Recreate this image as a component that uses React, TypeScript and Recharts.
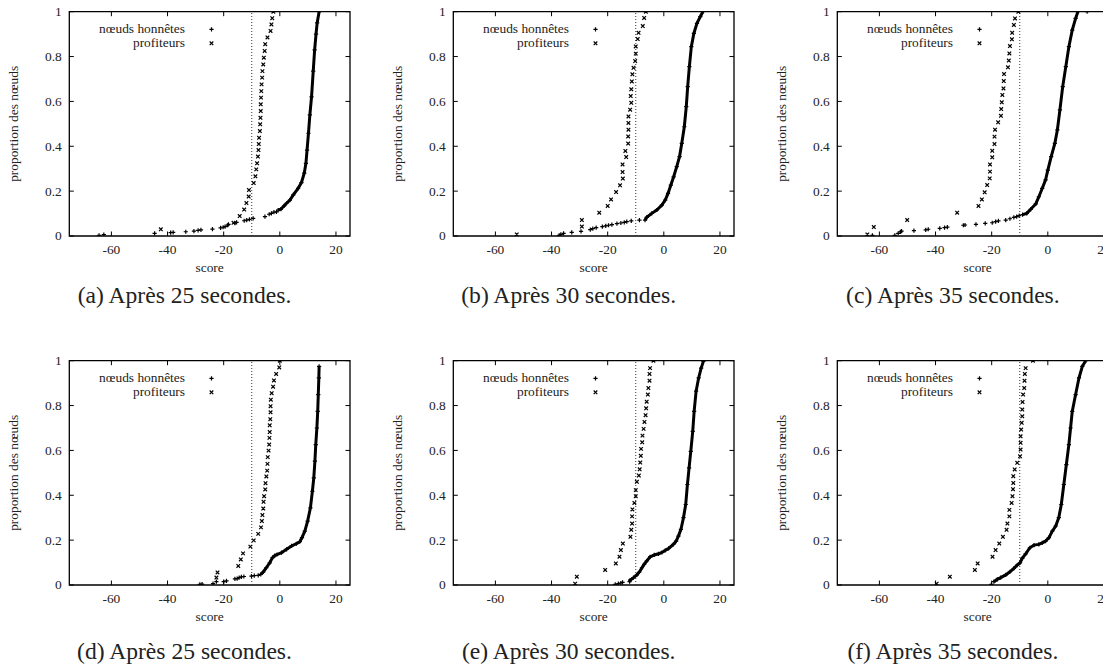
import React from 'react';
import { ScatterChart, Scatter, XAxis, YAxis, ReferenceLine, ReferenceArea, Legend, Label } from 'recharts';

type Pt = [number, number];

// ---------- labels ----------
const SERIES_LABELS = ['nœuds honnêtes', 'profiteurs'];
const X_TITLE = 'score';
const Y_TITLE = 'proportion des nœuds';
const X_TICKS = [-60, -40, -20, 0, 20];
const Y_TICKS = [0, 0.2, 0.4, 0.6, 0.8, 1];
const X_DOMAIN: [number, number] = [-75, 25];
const Y_DOMAIN: [number, number] = [0, 1];
const THRESHOLD = -10;
const CAPTIONS = [
  '(a) Après 25 secondes.',
  '(b) Après 30 secondes.',
  '(c) Après 35 secondes.',
  '(d) Après 25 secondes.',
  '(e) Après 30 secondes.',
  '(f) Après 35 secondes.',
];

// ---------- (a) ----------
const HONEST_TAIL_A: Pt[] = [[-64.4,0.003],[-62.7,0.006],[-44.6,0.012],[-38.9,0.015],[-38.0,0.016],[-33.5,0.019],[-30.6,0.022],[-29.1,0.025],[-28.1,0.027],[-24.0,0.031],[-21.1,0.036],[-20.2,0.039],[-19.5,0.042],[-18.6,0.048],[-18.3,0.052],[-16.0,0.057],[-15.4,0.061],[-12.7,0.068],[-11.8,0.071],[-10.8,0.074],[-9.5,0.079],[-5.3,0.086],[-3.8,0.097],[-3.0,0.101],[-2.1,0.106],[-1.2,0.108]];
const HONEST_CURVE_A: Pt[] = [[-0.6,0.115],[0.4,0.12],[1.5,0.134],[2.4,0.146],[3.6,0.16],[4.8,0.183],[6.5,0.212],[7.7,0.238],[8.7,0.28],[9.3,0.324],[9.7,0.383],[10.2,0.458],[10.7,0.54],[11.3,0.62],[11.9,0.735],[12.4,0.83],[12.9,0.9],[13.3,0.95],[14.0,1.0]];
const PROFITEURS_A: Pt[] = [[-42.4,0.03],[-16.5,0.059],[-14.3,0.089],[-12.7,0.118],[-11.9,0.147],[-11.1,0.176],[-11.0,0.205],[-9.3,0.236],[-8.7,0.266],[-8.4,0.297],[-8.1,0.324],[-7.8,0.354],[-7.6,0.383],[-7.5,0.41],[-7.4,0.438],[-7.1,0.468],[-7.0,0.498],[-6.9,0.527],[-6.8,0.557],[-6.8,0.587],[-6.7,0.617],[-6.6,0.646],[-6.5,0.676],[-6.3,0.706],[-6.2,0.735],[-5.9,0.765],[-5.7,0.795],[-5.4,0.825],[-5.2,0.855],[-4.4,0.885],[-3.3,0.914],[-3.0,0.943],[-2.7,0.971],[-2.3,1.0]];

// ---------- (b) ----------
const HONEST_TAIL_B: Pt[] = [[-37.3,0.003],[-36.7,0.007],[-35.7,0.012],[-32.8,0.016],[-29.5,0.021],[-26.2,0.028],[-25.3,0.033],[-24.1,0.037],[-21.9,0.042],[-20.7,0.045],[-19.7,0.048],[-18.5,0.051],[-16.7,0.055],[-15.3,0.058],[-14.1,0.061],[-13.2,0.064],[-11.6,0.067],[-8.7,0.071]];
const HONEST_CURVE_B: Pt[] = [[-6.7,0.071],[-6.1,0.083],[-4.3,0.101],[-2.5,0.116],[-0.7,0.138],[0.5,0.16],[1.5,0.19],[2.5,0.227],[3.5,0.264],[4.6,0.309],[5.6,0.354],[6.4,0.413],[7.3,0.487],[8.0,0.577],[8.5,0.666],[9.1,0.755],[9.8,0.844],[10.7,0.903],[11.8,0.948],[13.0,0.978],[13.9,1.0]];
const PROFITEURS_B: Pt[] = [[-52.4,0.007],[-29.2,0.042],[-29.2,0.071],[-23.0,0.104],[-20.0,0.134],[-18.8,0.163],[-17.0,0.196],[-15.6,0.226],[-14.6,0.256],[-14.7,0.285],[-14.7,0.319],[-13.4,0.352],[-13.7,0.379],[-12.7,0.412],[-12.7,0.444],[-12.6,0.474],[-12.6,0.504],[-12.6,0.533],[-12.0,0.563],[-11.6,0.594],[-11.8,0.624],[-11.6,0.654],[-11.4,0.689],[-11.2,0.721],[-10.8,0.75],[-10.2,0.78],[-10.0,0.813],[-10.0,0.845],[-9.3,0.878],[-9.0,0.906],[-7.5,0.936],[-7.0,0.972],[-6.4,1.0]];

// ---------- (c) ----------
const HONEST_TAIL_C: Pt[] = [[-62.5,0.003],[-54.5,0.003],[-53.3,0.012],[-52.5,0.018],[-52.1,0.022],[-47.7,0.024],[-43.5,0.027],[-42.6,0.03],[-38.5,0.034],[-36.8,0.037],[-35.8,0.04],[-30.1,0.048],[-29.5,0.049],[-25.6,0.052],[-22.3,0.056],[-19.8,0.059],[-18.6,0.064],[-17.6,0.067],[-15.0,0.071],[-13.5,0.077],[-12.1,0.083],[-11.1,0.086],[-10.2,0.091],[14.0,1.0]];
const HONEST_CURVE_C: Pt[] = [[-9.0,0.095],[-7.5,0.101],[-6.1,0.119],[-4.3,0.143],[-3.2,0.175],[-2.0,0.212],[-0.8,0.25],[0.0,0.294],[1.2,0.354],[2.5,0.413],[3.4,0.473],[4.3,0.562],[5.3,0.666],[6.4,0.755],[7.5,0.844],[8.7,0.918],[9.9,0.97],[10.7,1.0]];
const PROFITEURS_C: Pt[] = [[-64.3,0.007],[-62.0,0.04],[-50.1,0.071],[-32.3,0.104],[-24.7,0.134],[-23.5,0.163],[-22.5,0.195],[-21.6,0.227],[-20.7,0.257],[-20.6,0.287],[-20.6,0.319],[-19.8,0.351],[-19.8,0.38],[-19.0,0.41],[-19.0,0.443],[-18.8,0.474],[-17.7,0.507],[-16.7,0.536],[-16.6,0.566],[-16.4,0.596],[-16.2,0.629],[-15.8,0.658],[-15.7,0.691],[-15.6,0.722],[-14.2,0.752],[-13.9,0.782],[-13.7,0.814],[-13.5,0.847],[-12.8,0.877],[-12.7,0.906],[-12.1,0.941],[-11.7,0.97],[-10.5,1.0]];

// ---------- (d) ----------
const HONEST_TAIL_D: Pt[] = [[-28.5,0.003],[-27.7,0.004],[-23.8,0.006],[-22.6,0.015],[-20.0,0.015],[-19.0,0.018],[-16.0,0.027],[-15.2,0.028],[-14.5,0.033],[-13.7,0.036],[-12.8,0.038],[-10.1,0.04],[-9.1,0.042],[-7.7,0.043]];
const HONEST_CURVE_D: Pt[] = [[-6.8,0.047],[-5.9,0.058],[-4.8,0.077],[-3.6,0.099],[-2.6,0.122],[-1.8,0.131],[-1.0,0.136],[0.6,0.144],[2.4,0.159],[4.2,0.174],[5.9,0.184],[7.1,0.193],[7.9,0.211],[8.9,0.24],[9.9,0.285],[10.9,0.344],[11.6,0.418],[12.1,0.478],[12.5,0.552],[12.8,0.626],[13.2,0.7],[13.5,0.774],[13.7,0.849],[13.9,0.923],[14.0,0.975]];
const PROFITEURS_D: Pt[] = [[-22.6,0.033],[-22.2,0.056],[-14.8,0.085],[-13.9,0.114],[-13.1,0.141],[-10.5,0.171],[-9.3,0.199],[-7.7,0.228],[-6.7,0.257],[-6.4,0.285],[-6.2,0.312],[-5.9,0.341],[-5.8,0.371],[-5.6,0.396],[-5.2,0.426],[-5.1,0.454],[-4.8,0.484],[-4.5,0.51],[-4.4,0.54],[-4.3,0.57],[-4.0,0.599],[-3.8,0.626],[-3.7,0.656],[-3.6,0.682],[-3.6,0.712],[-3.4,0.739],[-3.3,0.77],[-3.3,0.797],[-3.2,0.826],[-2.9,0.855],[-2.4,0.884],[-2.1,0.912],[-1.3,0.941],[-0.2,0.97],[0.0,1.0]];

// ---------- (e) ----------
const HONEST_TAIL_E: Pt[] = [[-17.3,0.003],[-16.2,0.006],[-15.3,0.009],[-14.7,0.012]];
const HONEST_CURVE_E: Pt[] = [[-12.2,0.015],[-12.0,0.022],[-10.8,0.033],[-9.6,0.045],[-8.7,0.058],[-7.8,0.077],[-7.0,0.092],[-6.1,0.107],[-4.9,0.125],[-3.4,0.134],[-1.9,0.139],[-0.7,0.145],[0.5,0.154],[1.7,0.163],[3.4,0.181],[4.4,0.196],[5.2,0.218],[6.1,0.248],[7.0,0.3],[7.8,0.359],[8.4,0.448],[9.0,0.522],[9.6,0.596],[10.3,0.685],[10.8,0.774],[11.5,0.864],[12.4,0.923],[13.3,0.967],[14.1,0.997]];
const PROFITEURS_E: Pt[] = [[-31.6,0.006],[-31.0,0.037],[-20.9,0.067],[-17.1,0.096],[-15.8,0.126],[-15.3,0.156],[-14.6,0.185],[-11.9,0.215],[-11.6,0.246],[-11.3,0.274],[-11.3,0.306],[-11.2,0.337],[-10.5,0.366],[-10.0,0.396],[-10.0,0.423],[-9.6,0.46],[-8.9,0.488],[-8.6,0.516],[-8.4,0.546],[-8.2,0.576],[-8.1,0.607],[-7.7,0.636],[-7.6,0.666],[-7.2,0.696],[-6.9,0.727],[-6.5,0.757],[-6.3,0.788],[-6.1,0.817],[-5.7,0.849],[-5.5,0.878],[-5.1,0.911],[-5.1,0.941],[-4.9,0.967],[-3.7,1.0]];

// ---------- (f) ----------
const HONEST_TAIL_F: Pt[] = [[-20.1,0.003]];
const HONEST_CURVE_F: Pt[] = [[-19.2,0.015],[-18.0,0.025],[-16.8,0.033],[-15.0,0.045],[-13.5,0.059],[-12.1,0.074],[-10.9,0.089],[-9.9,0.099],[-9.1,0.119],[-7.9,0.139],[-6.4,0.166],[-4.9,0.178],[-3.2,0.181],[-2.0,0.188],[-0.8,0.196],[0.4,0.211],[1.6,0.24],[2.8,0.263],[3.9,0.3],[4.8,0.359],[5.7,0.448],[6.6,0.537],[7.5,0.626],[8.1,0.7],[8.7,0.774],[9.9,0.849],[11.1,0.923],[12.3,0.975],[13.5,1.0]];
const PROFITEURS_F: Pt[] = [[-39.6,0.006],[-34.9,0.037],[-26.0,0.067],[-25.0,0.096],[-19.7,0.126],[-18.6,0.156],[-17.3,0.185],[-16.0,0.215],[-14.7,0.246],[-14.4,0.274],[-13.7,0.306],[-13.7,0.335],[-12.9,0.366],[-12.6,0.396],[-12.4,0.427],[-12.3,0.455],[-12.3,0.485],[-11.8,0.515],[-10.9,0.545],[-9.9,0.574],[-9.7,0.604],[-9.7,0.634],[-9.7,0.663],[-9.5,0.693],[-9.3,0.723],[-9.1,0.752],[-9.1,0.782],[-9.0,0.816],[-8.8,0.849],[-8.4,0.878],[-8.3,0.911],[-8.2,0.941],[-7.9,0.967],[-5.3,1.0]];

const PANELS = [
  { tail: HONEST_TAIL_A, curve: HONEST_CURVE_A, prof: PROFITEURS_A },
  { tail: HONEST_TAIL_B, curve: HONEST_CURVE_B, prof: PROFITEURS_B },
  { tail: HONEST_TAIL_C, curve: HONEST_CURVE_C, prof: PROFITEURS_C },
  { tail: HONEST_TAIL_D, curve: HONEST_CURVE_D, prof: PROFITEURS_D },
  { tail: HONEST_TAIL_E, curve: HONEST_CURVE_E, prof: PROFITEURS_E },
  { tail: HONEST_TAIL_F, curve: HONEST_CURVE_F, prof: PROFITEURS_F },
].map((p, i) => ({ ...p, caption: CAPTIONS[i] }));

// ---------- layout / style ----------
const FONT = '"Liberation Serif", "Times New Roman", Times, serif';
const FS = 13.4;
const TEXT = '#222';
const CHART_W = 370;
const CHART_H = 286;
const M_TOP = 11.7;
const Y_AXIS_W = 69.3;
const PLOT_W = 280.7;
const PLOT_H = 224.3;
const TICK_LEN = 4.5;
const COL_STEP = 384.2;
const ROW_STEP = 349.3;
const CAPTION_Y = [303, 659];
const CAPTION_CX = 184.5;

const toObj = (arr: Pt[]) => arr.map(([x, y]) => ({ x, y }));

const Plus = (p: any) => (
  <path d={`M${p.cx - 2.1},${p.cy}h4.2M${p.cx},${p.cy - 2.1}v4.2`} stroke="#000" strokeWidth={1.2} fill="none" />
);
const Cross = (p: any) => (
  <path d={`M${p.cx - 1.8},${p.cy - 1.8}l3.6,3.6M${p.cx - 1.8},${p.cy + 1.8}l3.6,-3.6`} stroke="#000" strokeWidth={1.2} fill="none" />
);

const XTick = (props: any) => {
  const { x, y, payload } = props;
  return (
    <g>
      <line x1={x} y1={y} x2={x} y2={y - TICK_LEN} stroke="#000" strokeWidth={1} />
      <line x1={x} y1={y - PLOT_H} x2={x} y2={y - PLOT_H + TICK_LEN} stroke="#000" strokeWidth={1} />
      <text x={x} y={y + 18.4} textAnchor="middle" fontSize={FS} fontFamily={FONT} fill={TEXT}>
        {String(payload.value)}
      </text>
    </g>
  );
};

const YTick = (props: any) => {
  const { x, y, payload } = props;
  return (
    <g>
      <line x1={x} y1={y} x2={x + TICK_LEN} y2={y} stroke="#000" strokeWidth={1} />
      <line x1={x + PLOT_W} y1={y} x2={x + PLOT_W - TICK_LEN} y2={y} stroke="#000" strokeWidth={1} />
      <text x={x - 7.6} y={y + 4.4} textAnchor="end" fontSize={FS} fontFamily={FONT} fill={TEXT}>
        {String(payload.value)}
      </text>
    </g>
  );
};

const LegendBox = () => (
  <svg width={CHART_W} height={60} style={{ display: 'block', overflow: 'visible' }}>
    {SERIES_LABELS.map((label, i) => {
      const cy = 29.3 + i * 14;
      return (
        <g key={label}>
          <text x={185} y={cy + 4} textAnchor="end" fontSize={FS} fontFamily={FONT} fill={TEXT}>
            {label}
          </text>
          {i === 0 ? <Plus cx={211.5} cy={cy} /> : <Cross cx={211.5} cy={cy} />}
        </g>
      );
    })}
  </svg>
);

const Panel = ({ panel }: { panel: (typeof PANELS)[number] }) => (
  <ScatterChart
    width={CHART_W}
    height={CHART_H}
    margin={{ top: M_TOP, right: CHART_W - Y_AXIS_W - PLOT_W, bottom: 0, left: 0 }}
  >
    <XAxis
      type="number"
      dataKey="x"
      domain={X_DOMAIN}
      ticks={X_TICKS}
      interval={0}
      allowDataOverflow
      axisLine={false}
      tickLine={false}
      tickSize={0}
      tickMargin={0}
      tick={<XTick />}
      height={CHART_H - M_TOP - PLOT_H}
    >
      <Label
        content={() => (
          <text x={Y_AXIS_W + PLOT_W / 2} y={M_TOP + PLOT_H + 36.3} textAnchor="middle" fontSize={FS} fontFamily={FONT} fill={TEXT}>
            {X_TITLE}
          </text>
        )}
      />
    </XAxis>
    <YAxis
      type="number"
      dataKey="y"
      domain={Y_DOMAIN}
      ticks={Y_TICKS}
      interval={0}
      allowDataOverflow
      axisLine={false}
      tickLine={false}
      tickSize={0}
      tickMargin={0}
      tick={<YTick />}
      width={Y_AXIS_W}
    >
      <Label
        content={() => (
          <text
            x={18.3}
            y={M_TOP + PLOT_H / 2}
            transform={`rotate(-90 18.3 ${M_TOP + PLOT_H / 2})`}
            textAnchor="middle"
            fontSize={FS}
            fontFamily={FONT}
            fill={TEXT}
          >
            {Y_TITLE}
          </text>
        )}
      />
    </YAxis>
    <ReferenceArea x1={X_DOMAIN[0]} x2={X_DOMAIN[1]} y1={Y_DOMAIN[0]} y2={Y_DOMAIN[1]} fill="none" stroke="#000" strokeWidth={1.3} ifOverflow="visible" />
    <ReferenceLine x={THRESHOLD} stroke="#333" strokeWidth={1} strokeDasharray="1 2" ifOverflow="visible" />
    <Legend
      layout="vertical"
      align="center"
      verticalAlign="middle"
      content={() => <LegendBox />}
      wrapperStyle={{ position: 'absolute', left: 0, top: 0, width: CHART_W, height: 60 }}
    />
    <Scatter name={SERIES_LABELS[0]} data={toObj(panel.tail)} shape={Plus} isAnimationActive={false} />
    <Scatter
      name={SERIES_LABELS[0] + ' '}
      data={toObj(panel.curve)}
      shape={Plus}
      line={{ stroke: '#000', strokeWidth: 3 }}
      lineType="joint"
      isAnimationActive={false}
    />
    <Scatter name={SERIES_LABELS[1]} data={toObj(panel.prof)} shape={Cross} isAnimationActive={false} />
  </ScatterChart>
);

export default function App() {
  return (
    <div
      style={{
        position: 'relative',
        width: 1111,
        height: 668,
        margin: '-8px 0 0 -8px',
        overflow: 'hidden',
        background: '#fff',
      }}
    >
      {PANELS.map((panel, i) => {
        const col = i % 3;
        const row = Math.floor(i / 3);
        return (
          <div key={i} style={{ position: 'absolute', left: col * COL_STEP, top: row * ROW_STEP, width: CHART_W, height: CHART_H }}>
            <Panel panel={panel} />
          </div>
        );
      })}
      <svg width={1111} height={668} style={{ position: 'absolute', left: 0, top: 0, pointerEvents: 'none' }}>
        {PANELS.map((panel, i) => {
          const col = i % 3;
          const row = Math.floor(i / 3);
          return (
            <text
              key={i}
              x={CAPTION_CX + col * COL_STEP}
              y={CAPTION_Y[row]}
              textAnchor="middle"
              fontSize={23.6}
              fontFamily={FONT}
              fill={TEXT}
            >
              {panel.caption}
            </text>
          );
        })}
      </svg>
    </div>
  );
}
